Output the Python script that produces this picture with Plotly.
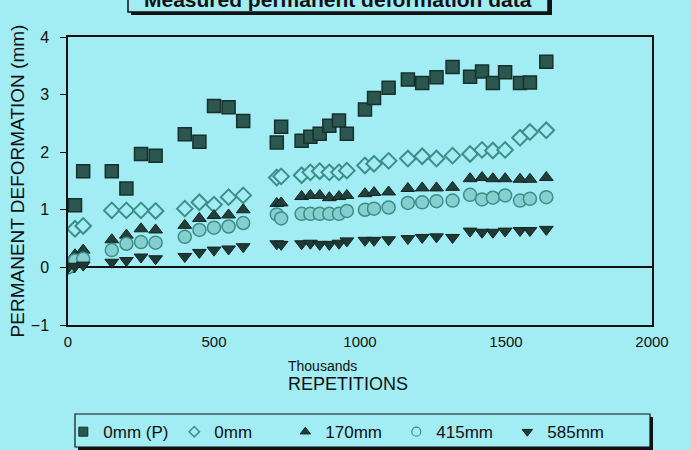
import plotly.graph_objects as go

# repetitions (thousands)
reps = [0, 24, 52, 150, 200, 250, 300, 400, 450, 500, 550, 600, 715, 730,
        800, 830, 862, 895, 928, 955, 1017, 1048, 1098, 1164, 1213, 1262,
        1317, 1377, 1418, 1455, 1497, 1548, 1582, 1638]

def_0mm_p = [0.03, 1.08, 1.67, 1.67, 1.37, 1.97, 1.94, 2.31, 2.18, 2.80, 2.78, 2.54,
             2.17, 2.44, 2.20, 2.27, 2.32, 2.46, 2.55, 2.32, 2.74, 2.94, 3.12, 3.26,
             3.20, 3.30, 3.48, 3.31, 3.40, 3.20, 3.39, 3.20, 3.21, 3.57]
def_0mm = [0.02, 0.67, 0.72, 0.99, 0.99, 0.99, 0.98, 1.02, 1.13, 1.09, 1.22, 1.25,
           1.56, 1.58, 1.60, 1.65, 1.67, 1.65, 1.65, 1.68, 1.77, 1.80, 1.85, 1.89,
           1.93, 1.89, 1.94, 1.97, 2.04, 2.03, 2.04, 2.25, 2.35, 2.38]
def_170mm = [0.01, 0.22, 0.30, 0.48, 0.56, 0.67, 0.65, 0.73, 0.85, 0.90, 0.91, 1.00,
             1.11, 1.12, 1.23, 1.25, 1.25, 1.21, 1.23, 1.25, 1.28, 1.30, 1.31, 1.37,
             1.38, 1.38, 1.39, 1.54, 1.56, 1.54, 1.54, 1.53, 1.53, 1.56]
def_415mm = [0.0, 0.12, 0.15, 0.30, 0.41, 0.44, 0.43, 0.53, 0.65, 0.69, 0.71, 0.77,
             0.92, 0.85, 0.93, 0.93, 0.93, 0.93, 0.93, 0.98, 1.00, 1.02, 1.04, 1.12,
             1.13, 1.15, 1.16, 1.26, 1.18, 1.21, 1.25, 1.16, 1.19, 1.22]
def_585mm = [0.0, 0.02, 0.04, 0.09, 0.12, 0.18, 0.15, 0.19, 0.26, 0.30, 0.32, 0.36,
             0.41, 0.40, 0.41, 0.42, 0.40, 0.40, 0.42, 0.46, 0.47, 0.47, 0.48, 0.50,
             0.52, 0.53, 0.52, 0.63, 0.61, 0.61, 0.63, 0.64, 0.64, 0.66]

series_names = ["0mm (P)", "0mm", "170mm", "415mm", "585mm"]
x_ticks = [0, 500, 1000, 1500, 2000]
y_ticks = [-1, 0, 1, 2, 3, 4]

BG = "#a2edf3"
FONT = "Liberation Sans, Arial, sans-serif"

styles = [
    dict(symbol="square", size=13, color="#2c5650", line=dict(color="#17302b", width=1.5)),
    dict(symbol="diamond", size=12, color=BG, line=dict(color="#3a8f88", width=2)),
    dict(symbol="triangle-up", size=12, color="#22403b", line=dict(color="#122522", width=1)),
    dict(symbol="circle", size=13, color="#86cfd0", line=dict(color="#3a8f88", width=1.5)),
    dict(symbol="triangle-down", size=12, color="#1f3a35", line=dict(color="#122522", width=1)),
]
legend_styles = [
    dict(symbol="square", size=9, color="#2c5650", line=dict(color="#17302b", width=1)),
    dict(symbol="diamond", size=8, color=BG, line=dict(color="#3a8f88", width=1.5)),
    dict(symbol="triangle-up", size=9, color="#22403b", line=dict(color="#122522", width=1)),
    dict(symbol="circle", size=9, color=BG, line=dict(color="#3a8f88", width=1.2)),
    dict(symbol="triangle-down", size=9, color="#1f3a35", line=dict(color="#122522", width=1)),
]

data = [def_0mm_p, def_0mm, def_170mm, def_415mm, def_585mm]

fig = go.Figure()
for name, ys, st in zip(series_names, data, styles):
    fig.add_trace(go.Scatter(x=reps, y=ys, mode="markers", name=name,
                             marker=st, showlegend=False))
for name, st in zip(series_names, legend_styles):
    fig.add_trace(go.Scatter(x=[None], y=[None], mode="markers", name=name,
                             marker=st, showlegend=True))

fig.update_layout(
    width=691, height=450,
    margin=dict(l=68, r=39, t=37, b=125, autoexpand=False),
    paper_bgcolor=BG, plot_bgcolor=BG,
    font=dict(family=FONT, color="#111111"),
    showlegend=True,
    legend=dict(orientation="h", x=-0.008, y=-0.372, xanchor="left", yanchor="middle",
                bgcolor="rgba(0,0,0,0)", font=dict(size=17, family=FONT),
                entrywidth=66, entrywidthmode="pixels", itemclick=False),
    xaxis=dict(range=[0, 2000], tickvals=x_ticks, showgrid=False, zeroline=False,
               showline=True, linecolor="#111111", linewidth=1.5, mirror=True,
               ticks="", tickfont=dict(size=15), ticklabelstandoff=2, automargin=False),
    yaxis=dict(range=[-1, 4], tickvals=y_ticks, showgrid=False,
               zeroline=True, zerolinecolor="#111111", zerolinewidth=1.5,
               showline=True, linecolor="#111111", linewidth=1.5, mirror=True,
               ticks="outside", ticklen=6, tickcolor="#111111", tickwidth=1,
               tickfont=dict(size=16), ticklabelstandoff=8, automargin=False,
               title=dict(text="PERMANENT DEFORMATION (mm)", font=dict(size=19),
                          standoff=1)),
)

def px_x(p):
    return (p - 68) / 584

def px_y(p):
    return (325 - p) / 288

# x axis titles
fig.add_annotation(text="Thousands", xref="paper", yref="paper", x=px_x(322), y=px_y(366),
                   showarrow=False, font=dict(size=14), xanchor="center", yanchor="middle")
fig.add_annotation(text="REPETITIONS", xref="paper", yref="paper", x=px_x(348), y=px_y(384),
                   showarrow=False, font=dict(size=18), xanchor="center", yanchor="middle")

# title box (partly cut off at the top) with drop shadow
fig.add_shape(type="rect", xref="paper", yref="paper",
              x0=px_x(131), x1=px_x(552), y0=px_y(15), y1=px_y(-20),
              fillcolor="#111111", line=dict(width=0), layer="below")
fig.add_shape(type="rect", xref="paper", yref="paper",
              x0=px_x(128), x1=px_x(548), y0=px_y(12), y1=px_y(-20),
              fillcolor=BG, line=dict(color="#111111", width=1.5))
fig.add_annotation(text="<b>Measured permanent deformation data</b>", xref="paper", yref="paper",
                   x=px_x(338), y=px_y(-1), showarrow=False, font=dict(size=21),
                   xanchor="center", yanchor="middle")

# legend box with drop shadow
fig.add_shape(type="rect", xref="paper", yref="paper",
              x0=px_x(78), x1=px_x(653), y0=px_y(450), y1=px_y(417),
              fillcolor="#111111", line=dict(width=0), layer="below")
fig.add_shape(type="rect", xref="paper", yref="paper",
              x0=px_x(75), x1=px_x(650), y0=px_y(447), y1=px_y(414),
              fillcolor=BG, line=dict(color="#111111", width=1.2), layer="below")

fig.write_html("out.html", config={"displayModeBar": False})

# remove the browser's default page margin so the figure sits at the window's corner
with open("out.html", "r", encoding="utf-8") as f:
    html = f.read()
html = html.replace("<body>", "<body style=\"margin:0;padding:0;background:%s;\">" % BG, 1)
html = html.replace("<head>", "<head><style>html,body{margin:0;padding:0;overflow:hidden;}</style>", 1)
with open("out.html", "w", encoding="utf-8") as f:
    f.write(html)
